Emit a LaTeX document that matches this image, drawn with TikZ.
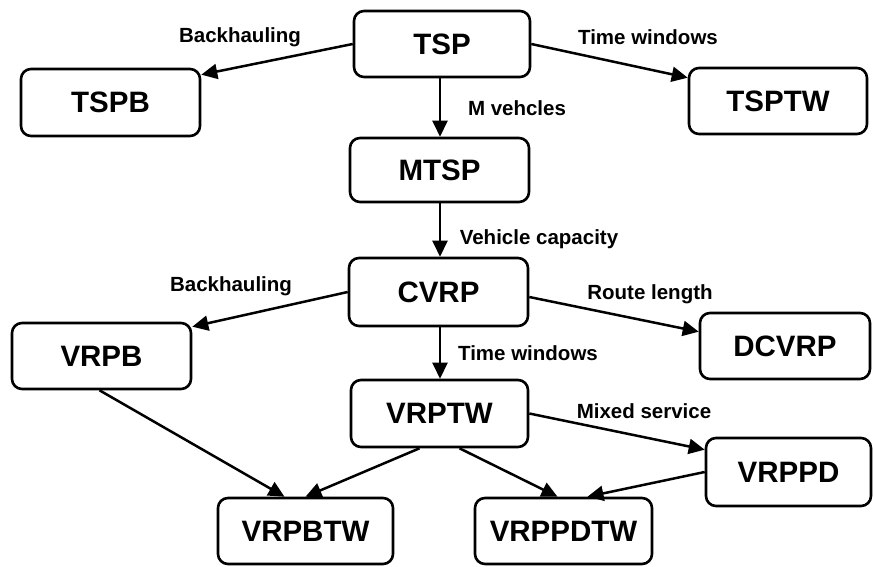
\documentclass[tikz,border=0pt]{standalone}
\usepackage{fontspec}
\setmainfont{Liberation Sans}
\usetikzlibrary{arrows.meta}
\begin{document}
\begin{tikzpicture}[x=1pt,y=-1pt,
  prob/.style={draw, line width=2.6pt, rounded corners=10pt, inner sep=0pt,
    font=\bfseries\fontsize{29.5}{32}\selectfont},
  edgelbl/.style={font=\bfseries\fontsize{20.5}{23}\selectfont, inner sep=0pt},
  link/.style={line width=2.5pt, -{Triangle[length=16pt,width=15pt]}}]
\useasboundingbox (0,0) rectangle (873,567);

% problem boxes
\node[prob, minimum width=176pt, minimum height=66pt] (tsp)     at (442,44)    {TSP};
\node[prob, minimum width=179pt, minimum height=67pt] (tspb)    at (110.5,102.5) {TSPB};
\node[prob, minimum width=178pt, minimum height=66pt] (tsptw)   at (778,101)   {TSPTW};
\node[prob, minimum width=179pt, minimum height=64pt] (mtsp)    at (439.5,170) {MTSP};
\node[prob, minimum width=179pt, minimum height=68pt] (cvrp)    at (438.5,292) {CVRP};
\node[prob, minimum width=179pt, minimum height=66pt] (vrpb)    at (101.5,356) {VRPB};
\node[prob, minimum width=170pt, minimum height=66pt] (dcvrp)   at (785,346)   {DCVRP};
\node[prob, minimum width=177pt, minimum height=67pt] (vrptw)   at (439.5,413.5) {VRPTW};
\node[prob, minimum width=165pt, minimum height=68pt] (vrppd)   at (788.5,472) {VRPPD};
\node[prob, minimum width=175pt, minimum height=66pt] (vrpbtw)  at (305.5,531) {VRPBTW};
\node[prob, minimum width=177pt, minimum height=66pt] (vrppdtw) at (563.5,531) {VRPPDTW};

% connectors
\draw[link] (tsp.west) -- ([yshift=-7pt]tspb.north east);
\draw[link] (tsp.east) -- ([yshift=-11pt]tsptw.north west);
\draw[link] ([xshift=-2pt]tsp.south) -- ([xshift=-2pt]tsp.south |- mtsp.north);
\draw[link] ([xshift=0.5pt]mtsp.south) -- ([xshift=0.5pt]mtsp.south |- cvrp.north);
\draw[link] (cvrp.west) -- ([yshift=-5pt]vrpb.north east);
\draw[link] ([yshift=-5pt]cvrp.east) -- ([yshift=-20pt]dcvrp.north west);
\draw[link] ([xshift=1.5pt]cvrp.south) -- ([xshift=1.5pt]cvrp.south |- vrptw.north);
\draw[link] ([xshift=-2pt]vrpb.south) -- ([xshift=-21pt]vrpbtw.north);
\draw[link] ([xshift=-20pt]vrptw.south) -- (vrpbtw.north);
\draw[link] ([xshift=20pt]vrptw.south) -- ([xshift=-6pt]vrppdtw.north);
\draw[link] (vrptw.east) -- ([yshift=-13pt]vrppd.north west);
\draw[link] (vrppd.west) -- ([xshift=24pt]vrppdtw.north);

% connector labels
\node[edgelbl] (l1) at (240,37)  {Backhauling};
\node[edgelbl] (l2) at (648,37)  {Time windows};
\node[edgelbl] (l3) at (517,108) {M vehcles};
\node[edgelbl] (l4) at (539,239) {Vehicle capacity};
\node[edgelbl] (l5) at (231,286) {Backhauling};
\node[edgelbl] (l6) at (650,294) {Route length};
\node[edgelbl] (l7) at (528,353) {Time windows};
\node[edgelbl] (l8) at (644,411) {Mixed service};
\end{tikzpicture}
\end{document}
